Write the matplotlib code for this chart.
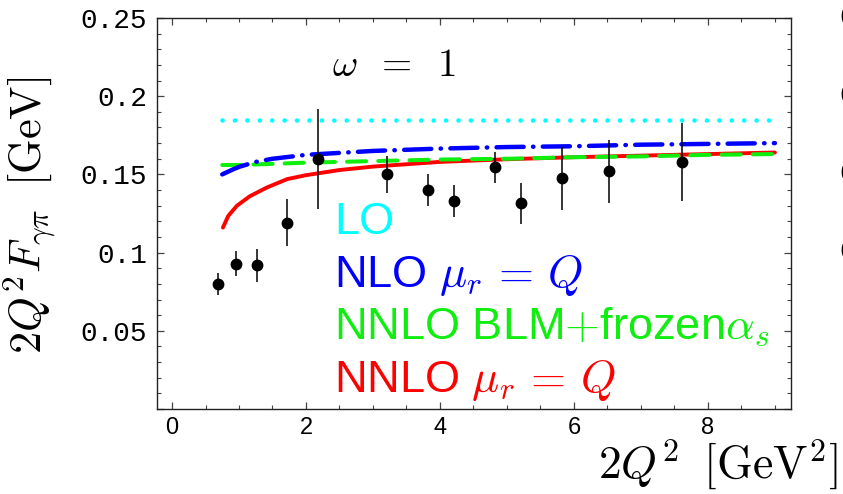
import matplotlib
matplotlib.use("Agg")
import matplotlib.pyplot as plt
from matplotlib.ticker import MultipleLocator

plt.rcParams["mathtext.fontset"] = "cm"

# ── Data ────────────────────────────────────────────────────────────────────
# measured points (2Q^2, 2Q^2 F, error)
data_x = [0.69, 0.96, 1.27, 1.72, 2.18, 3.21, 3.82, 4.21, 4.82, 5.21, 5.82, 6.52, 7.61]
data_y = [0.080, 0.093, 0.092, 0.119, 0.160, 0.150, 0.140, 0.133, 0.1545, 0.1315, 0.1475, 0.152, 0.158]
data_err = [0.007, 0.008, 0.0105, 0.015, 0.032, 0.012, 0.010, 0.010, 0.010, 0.013, 0.020, 0.020, 0.025]

# LO (flat)
lo_x = [0.75, 9.0]
lo_y = [0.185, 0.185]

# NLO, mu_r = Q
nlo_x = [0.75, 0.9, 1.0, 1.25, 1.5, 2.0, 3.0, 4.0, 5.0, 6.0, 7.0, 8.0, 9.0]
nlo_y = [0.150, 0.1530, 0.1548, 0.158, 0.160, 0.1625, 0.165, 0.1665, 0.1675, 0.168, 0.169, 0.1695, 0.170]

# NNLO BLM + frozen alpha_s
blm_x = [0.75, 1.0, 2.0, 3.0, 4.0, 5.0, 6.0, 7.0, 8.0, 9.0]
blm_y = [0.156, 0.156, 0.1575, 0.1585, 0.1595, 0.160, 0.161, 0.1615, 0.1625, 0.163]

# NNLO, mu_r = Q
nnlo_x = [0.76, 0.84, 0.97, 1.16, 1.42, 1.72, 2.0, 2.5, 3.0, 4.0, 5.0, 6.0, 7.0, 8.0, 9.0]
nnlo_y = [0.116, 0.1235, 0.1300, 0.1360, 0.1417, 0.1470, 0.1495, 0.1528, 0.155, 0.158, 0.1597,
          0.161, 0.162, 0.163, 0.164]

x_ticks = [0, 2, 4, 6, 8]
x_ticklabels = ["0", "2", "4", "6", "8"]
y_ticks = [0.0, 0.05, 0.10, 0.15, 0.20, 0.25]
y_ticklabels = ["", "0.05", "0.1", "0.15", "0.2", "0.25"]

legend_labels = ["LO", r"NLO $\mu_r\,=\,Q$", r"NNLO BLM$+$frozen$\alpha_s$", r"NNLO $\mu_r\,=\,Q$"]
legend_colors = ["#00ffff", "#0000ff", "#10ee10", "#ff0000"]

# ── Figure ──────────────────────────────────────────────────────────────────
fig = plt.figure(figsize=(8.43, 4.94), dpi=100)
ax = fig.add_axes([0.18624, 0.17206, 0.75208, 0.7915])

ax.plot(nnlo_x, nnlo_y, color=legend_colors[3], lw=2.8, zorder=2, solid_capstyle="round")
ax.plot(blm_x, blm_y, color=legend_colors[2], lw=2.9, linestyle=(0, (4.75, 3.0)),
        dash_capstyle="round", zorder=3)
ax.plot(nlo_x, nlo_y, color=legend_colors[1], lw=3.2, linestyle=(0, (6.1, 2.1, 0.1, 2.1)),
        dash_capstyle="round", zorder=4)
ax.plot(lo_x, lo_y, color=legend_colors[0], lw=3.3, linestyle=(0, (0.01, 2.7)),
        dash_capstyle="round", zorder=4)

ax.errorbar(data_x, data_y, yerr=data_err, fmt="o", color="black", ms=7.5,
            elinewidth=1.1, capsize=0, zorder=6)

ax.set_xlim(-0.224, 9.24)
ax.set_ylim(0.0, 0.25)

ax.set_xticks(x_ticks)
ax.set_xticklabels(x_ticklabels, family=["Liberation Sans Narrow", "Liberation Sans"], fontsize=17)
ax.set_yticks(y_ticks)
ax.set_yticklabels(y_ticklabels, family="Liberation Mono", fontsize=20)
ax.xaxis.set_minor_locator(MultipleLocator(0.5))
ax.yaxis.set_minor_locator(MultipleLocator(0.01))
ax.tick_params(which="both", direction="in", top=True, right=True, color="#444444")
ax.tick_params(which="major", length=5, width=0.9)
ax.tick_params(which="minor", length=3, width=0.8)
ax.tick_params(axis="y", pad=7)
ax.tick_params(axis="x", pad=6)
for s in ax.spines.values():
    s.set_color("#222222")
    s.set_linewidth(1.0)

# ── Text ────────────────────────────────────────────────────────────────────
W, H = 843.0, 494.0
fig.text(30 / W, 1 - 215 / H, r"$2Q^2F_{\gamma\pi}\;\;[\mathrm{GeV}]$", rotation=90,
         ha="center", va="center", fontsize=32)
fig.text(718 / W, 1 - 465 / H, r"$2Q^2\;\;[\mathrm{GeV}^2]$", ha="center", va="center",
         fontsize=33)
fig.text(332 / W, 1 - 65 / H, r"$\omega\;\;=\;\;1$", ha="left", va="center", fontsize=28)

baselines = [234, 287, 338, 392]
for lab, col, yb in zip(legend_labels, legend_colors, baselines):
    fig.text(334 / W, 1 - yb / H, lab, color=col, ha="left", va="baseline",
             family="Liberation Sans", fontsize=32.5)

# cut-off tick labels of the neighbouring panel
for yp, lab in zip([18, 96, 174, 252], ["0.25", "0.2", "0.15", "0.1"]):
    fig.text(839 / W, 1 - yp / H, lab, ha="left", va="center", family="Liberation Mono",
             fontsize=20)

fig.savefig("out.png", dpi=100)
